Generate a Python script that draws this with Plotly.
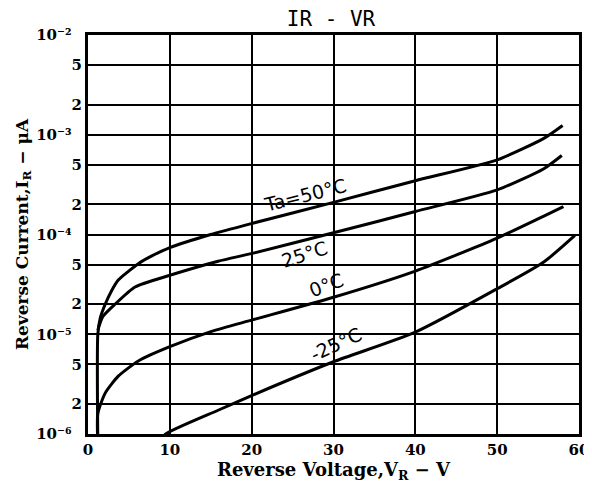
import plotly.graph_objects as go

# ---- data ----
v_50 = [1.2, 1.2, 1.5, 2.1, 2.9, 3.7, 4.9, 6.15, 7.8, 10, 15, 20, 30, 40, 50, 55.7, 58]
i_50 = [8e-7, 1.0e-5, 1.46e-5, 2.0e-5, 2.75e-5, 3.5e-5, 4.25e-5, 5.1e-5, 6.1e-5, 7.4e-5,
        1.0e-4, 1.29e-4, 2.1e-4, 3.46e-4, 5.6e-4, 9.2e-4, 1.24e-3]

v_25 = [1.2, 1.8, 3.3, 5.75, 10, 15.9, 20.2, 30, 40, 50, 55.7, 57.9]
i_25 = [1.1e-5, 1.5e-5, 2.0e-5, 2.98e-5, 3.9e-5, 5.4e-5, 6.5e-5, 1.04e-4, 1.7e-4, 2.8e-4, 4.57e-4, 6.2e-4]

v_0 = [1.2, 1.2, 2.1, 3.7, 6.15, 10, 15.1, 20.2, 30, 40, 50, 55.7, 58.1]
i_0 = [8e-7, 1.6e-6, 2.57e-6, 3.8e-6, 5.4e-6, 7.5e-6, 1.07e-5, 1.4e-5, 2.35e-5, 4.3e-5, 9.2e-5, 1.53e-4, 1.9e-4]

v_m25 = [8.5, 9.5, 15.9, 20.2, 30, 40, 50, 55.7, 59.5]
i_m25 = [8e-7, 1.0e-6, 1.73e-6, 2.47e-6, 5.3e-6, 1.05e-5, 2.86e-5, 5.3e-5, 9.8e-5]

x_ticks = [0, 10, 20, 30, 40, 50, 60]
y_tickvals = [1e-6, 2e-6, 5e-6, 1e-5, 2e-5, 5e-5, 1e-4, 2e-4, 5e-4, 1e-3, 2e-3, 5e-3, 1e-2]
y_ticktext = ["10⁻⁶\u00a0\u00a0", "2", "5",
              "10⁻⁵\u00a0\u00a0", "2", "5",
              "10⁻⁴\u00a0\u00a0", "2", "5",
              "10⁻³\u00a0\u00a0", "2", "5",
              "10⁻²\u00a0\u00a0"]

curve_labels = ["Ta=50°C", "25°C", "0°C", "-25°C"]
label_x = [26.5, 26.5, 29.1, 30.3]
label_y = [-3.60, -4.20, -4.51, -5.10]
label_angle = [-14, -18, -20, -25]

fig = go.Figure()
for vx, iy in [(v_50, i_50), (v_25, i_25), (v_0, i_0), (v_m25, i_m25)]:
    fig.add_trace(go.Scatter(x=vx, y=iy, mode="lines",
                             line=dict(color="black", width=3, shape="spline", smoothing=0.6),
                             showlegend=False, hoverinfo="skip"))

for t, lx, ly, a in zip(curve_labels, label_x, label_y, label_angle):
    fig.add_annotation(x=lx, y=ly, xref="x", yref="y", text=t, showarrow=False,
                       textangle=a, font=dict(family="DejaVu Sans", size=19, color="black"))

axis_font = dict(family="DejaVu Serif", size=15, color="black")

# the page body adds an 8px offset; figure is sized so the plot lands where the reference has it
W, H = 584, 484
fig.update_layout(
    width=W, height=H,
    margin=dict(l=80, r=13, t=27, b=58),
    paper_bgcolor="white", plot_bgcolor="white",
    title=dict(text="IR - VR", x=323 / W, xanchor="center", y=1 - 3 / H, yanchor="top",
               xref="container", yref="container",
               font=dict(family="DejaVu Sans Mono", size=21, color="black")),
    xaxis=dict(range=[0, 60], tickvals=x_ticks, ticktext=[f"<b>{t}</b>" for t in x_ticks],
               showgrid=True, gridcolor="black", gridwidth=2, automargin=False,
               showline=True, linecolor="black", linewidth=3, mirror=True,
               ticks="", tickfont=axis_font, zeroline=False,
               title=dict(text="<b>Reverse Voltage,V<sub>R</sub> − V</b>", standoff=6,
                          font=dict(family="DejaVu Serif", size=18, color="black"))),
    yaxis=dict(type="log", range=[-6, -2], tickvals=y_tickvals,
               ticktext=[f"<b>{t}</b>" for t in y_ticktext],
               showgrid=True, gridcolor="black", gridwidth=2, automargin=False,
               showline=True, linecolor="black", linewidth=3, mirror=True,
               ticks="", tickfont=axis_font, zeroline=False,
               title=dict(text="<b>Reverse Current,I<sub>R</sub> − μA</b>", standoff=4,
                          font=dict(family="DejaVu Serif", size=17, color="black"))),
)

fig.write_html("out.html")
